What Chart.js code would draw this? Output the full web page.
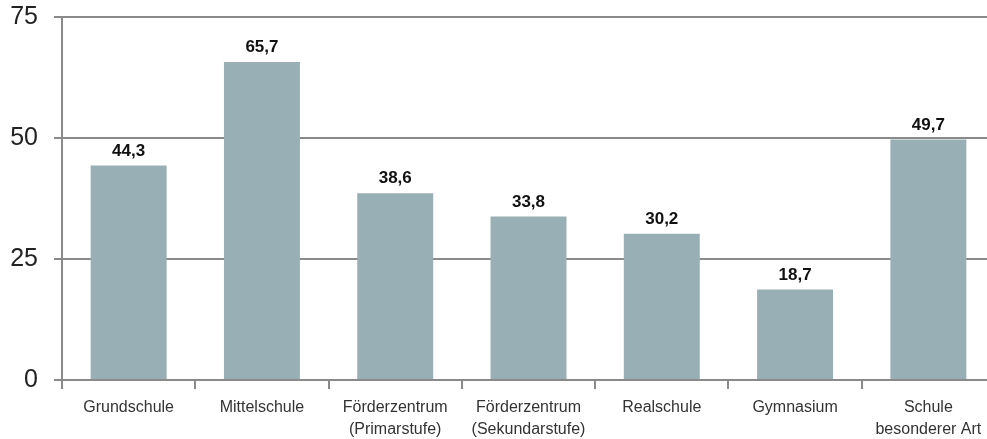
<!DOCTYPE html>
<html>
<head>
<meta charset="utf-8">
<script src="https://cdn.jsdelivr.net/npm/chart.js@4/dist/chart.umd.min.js"></script>
<style>
  html, body { margin: 0; padding: 0; background: #fff; overflow: hidden; }
  #wrap { width: 995px; height: 453px; position: relative; margin-top: -14px; }
</style>
</head>
<body>
<div id="wrap"><canvas id="schoolChart"></canvas></div>
<script>
const categories = [
    'Grundschule',
    'Mittelschule',
    ['Förderzentrum', '(Primarstufe)'],
    ['Förderzentrum', '(Sekundarstufe)'],
    'Realschule',
    'Gymnasium',
    ['Schule', 'besonderer Art']
];
const values = [44.3, 65.7, 38.6, 33.8, 30.2, 18.7, 49.7];
const yTicks = [0, 25, 50, 75];

const barColor = '#99afb6';
const lineColor = '#8a8a8a';

// Wert über jedem Balken
const valueLabels = {
    id: 'valueLabels',
    afterDatasetsDraw(chart) {
        const ctx = chart.ctx;
        const meta = chart.getDatasetMeta(0);
        ctx.save();
        ctx.font = 'bold 17px "Liberation Sans", Arial, sans-serif';
        ctx.fillStyle = '#111';
        ctx.textAlign = 'center';
        ctx.textBaseline = 'bottom';
        meta.data.forEach((bar, i) => {
            ctx.fillText(values[i].toFixed(1).replace('.', ','), bar.x, bar.y - 6);
        });
        ctx.restore();
    }
};

const ctx = document.getElementById('schoolChart').getContext('2d');
new Chart(ctx, {
    type: 'bar',
    data: {
        labels: categories,
        datasets: [{
            data: values,
            backgroundColor: barColor,
            borderWidth: 0,
            barPercentage: 0.57,
            categoryPercentage: 1
        }]
    },
    options: {
        responsive: true,
        maintainAspectRatio: false,
        animation: false,
        layout: { padding: { top: 4, right: 0, left: 0, bottom: 0 } },
        plugins: {
            legend: { display: false },
            tooltip: { enabled: false }
        },
        scales: {
            x: {
                grid: {
                    offset: true,
                    drawOnChartArea: false,
                    color: lineColor,
                    lineWidth: 2,
                    tickLength: 9
                },
                border: { color: lineColor, width: 2 },
                ticks: {
                    color: '#333',
                    font: { family: '"Liberation Sans", Arial, sans-serif', size: 16, lineHeight: 1.35 },
                    padding: 8,
                    maxRotation: 0,
                    autoSkip: false
                },
                afterFit(scale) { scale.height = 59; }
            },
            y: {
                min: 0,
                max: 75,
                afterBuildTicks(scale) {
                    scale.ticks = yTicks.map(v => ({ value: v }));
                },
                grid: {
                    color: lineColor,
                    lineWidth: 2,
                    tickLength: 8
                },
                border: { color: lineColor, width: 2 },
                ticks: {
                    color: '#222',
                    font: { family: '"Liberation Sans", Arial, sans-serif', size: 25 },
                    padding: 16
                },
                afterFit(scale) { scale.width = 62; }
            }
        }
    },
    plugins: [valueLabels]
});
</script>
</body>
</html>
